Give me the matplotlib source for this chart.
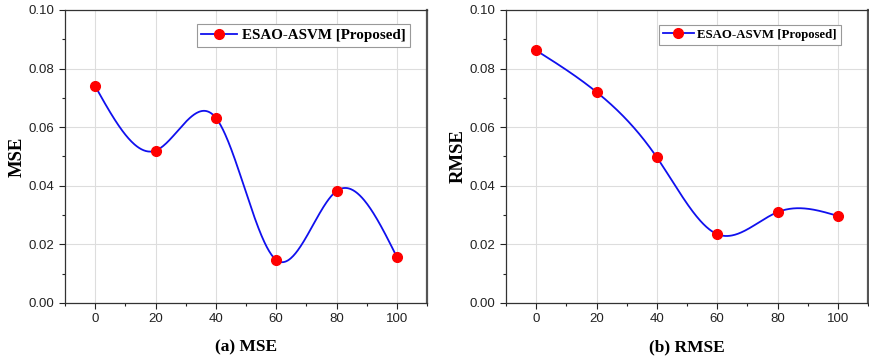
import matplotlib
matplotlib.use("Agg")
import matplotlib.pyplot as plt
import numpy as np
from matplotlib.ticker import MultipleLocator

# data
iterations = [0, 20, 40, 60, 80, 100]
mse = [0.0740, 0.0520, 0.0632, 0.0147, 0.0382, 0.0157]
rmse = [0.0862, 0.0720, 0.0497, 0.0235, 0.0310, 0.0297]
label = "ESAO-ASVM [Proposed]"


def natural_spline(x, y, n=400):
    # plain natural cubic spline, only used to draw the smooth connecting line
    x = np.asarray(x, float)
    y = np.asarray(y, float)
    k = len(x)
    h = np.diff(x)
    A = np.zeros((k, k))
    r = np.zeros(k)
    A[0, 0] = 1
    A[-1, -1] = 1
    for i in range(1, k - 1):
        A[i, i - 1] = h[i - 1]
        A[i, i] = 2 * (h[i - 1] + h[i])
        A[i, i + 1] = h[i]
        r[i] = 6 * ((y[i + 1] - y[i]) / h[i] - (y[i] - y[i - 1]) / h[i - 1])
    M = np.linalg.solve(A, r)
    xs = np.linspace(x[0], x[-1], n)
    idx = np.clip(np.searchsorted(x, xs) - 1, 0, k - 2)
    x0, x1 = x[idx], x[idx + 1]
    hh = x1 - x0
    a = (x1 - xs) / hh
    b = (xs - x0) / hh
    ys = (a * y[idx] + b * y[idx + 1]
          + ((a ** 3 - a) * M[idx] + (b ** 3 - b) * M[idx + 1]) * hh ** 2 / 6)
    return xs, ys


serif = "Liberation Serif"
sans = "Liberation Sans"

fig = plt.figure(figsize=(8.69, 3.61), dpi=100)
ax1 = fig.add_axes([0.0748, 0.1607, 0.4166, 0.8116])
ax2 = fig.add_axes([0.5823, 0.1607, 0.4166, 0.8116])

# axes, values, y label, caption, legend font size, legend anchor, handle length
panels = [(ax1, mse, "MSE", "(a) MSE", 10.8, (0.953, 0.952), 2.4),
          (ax2, rmse, "RMSE", "(b) RMSE", 9.2, (0.925, 0.949), 2.4)]

for ax, vals, ylab, cap, legsize, anchor, hl in panels:
    xs, ys = natural_spline(iterations, vals)
    ax.plot(xs, ys, color="#1010ee", lw=1.3, zorder=2)
    ax.plot(iterations, vals, "o", color="red", ms=7, zorder=3)
    # legend handle: line with marker
    h, = ax.plot([], [], "-o", color="#1010ee", mfc="red", mec="red", ms=7, lw=1.3)
    leg = ax.legend([h], [label], loc="upper right", bbox_to_anchor=anchor,
                    prop={"family": serif, "weight": "bold", "size": legsize},
                    fancybox=False, framealpha=1, edgecolor="#999999",
                    handlelength=hl, handletextpad=0.3, borderpad=0.3,
                    borderaxespad=0)
    leg.get_frame().set_linewidth(0.8)

    ax.set_xlim(-10, 110)
    ax.set_ylim(0, 0.1)
    ax.set_xticks(iterations)
    ax.set_yticks(np.arange(0, 0.101, 0.02))
    ax.set_yticklabels(["%.2f" % v for v in np.arange(0, 0.101, 0.02)])
    ax.xaxis.set_minor_locator(MultipleLocator(10))
    ax.yaxis.set_minor_locator(MultipleLocator(0.01))
    ax.tick_params(which="both", direction="out", colors="#222222",
                   labelsize=9.5, width=0.8)
    ax.tick_params(which="major", length=4)
    ax.tick_params(which="minor", length=2.5)
    for t in ax.get_xticklabels() + ax.get_yticklabels():
        t.set_family(sans)
    ax.grid(True, which="major", color="#dddddd", lw=0.8)
    ax.set_axisbelow(True)
    for s in ax.spines.values():
        s.set_color("#333333")
        s.set_linewidth(0.9)
    ax.spines["right"].set_linewidth(1.6)
    ax.spines["right"].set_color("#555555")
    ax.set_ylabel(ylab, family=serif, weight="bold", fontsize=13.5, labelpad=2)
    ax.set_xlabel(cap, family=serif, weight="bold", fontsize=12.5, labelpad=10)

fig.savefig("out.png", dpi=100, facecolor="white")
